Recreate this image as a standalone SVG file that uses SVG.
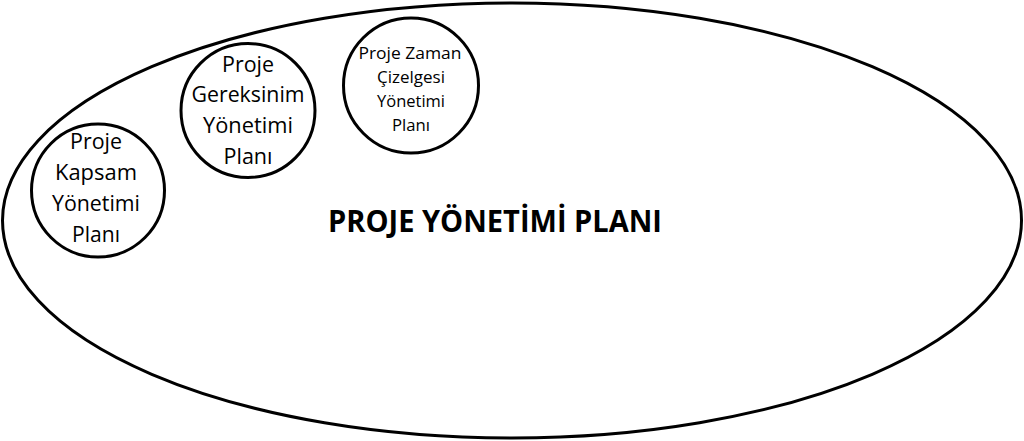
<svg xmlns="http://www.w3.org/2000/svg" width="1024" height="441" viewBox="0 0 1024 441">
<style>
  .shape { fill: #ffffff; stroke: #000000; stroke-width: 3; }
  .lbl { font-family: "Open Sans", "Noto Sans", "Liberation Sans", sans-serif; fill: #000000; text-anchor: middle; }
  .big { font-size: 21px; }
  .small { font-size: 17px; }
  .title { font-size: 31px; font-weight: bold; }
</style>
<rect width="1024" height="441" fill="#ffffff"/>
<g id="plan">
  <ellipse class="shape" cx="512" cy="220.5" rx="509.5" ry="217.5"/>
  <text class="lbl title" x="495" y="232" textLength="334" lengthAdjust="spacingAndGlyphs">PROJE YÖNETİMİ PLANI</text>
</g>
<g id="kapsam">
  <circle class="shape" cx="98" cy="190.5" r="66.5"/>
  <text class="lbl big" x="96" y="149" textLength="52" lengthAdjust="spacingAndGlyphs">Proje</text>
  <text class="lbl big" x="96" y="180" textLength="82" lengthAdjust="spacingAndGlyphs">Kapsam</text>
  <text class="lbl big" x="96" y="211" textLength="88" lengthAdjust="spacingAndGlyphs">Yönetimi</text>
  <text class="lbl big" x="96" y="242" textLength="48" lengthAdjust="spacingAndGlyphs">Planı</text>
</g>
<g id="gereksinim">
  <circle class="shape" cx="248" cy="110.5" r="67"/>
  <text class="lbl big" x="248" y="72" textLength="52" lengthAdjust="spacingAndGlyphs">Proje</text>
  <text class="lbl big" x="248" y="102" textLength="113" lengthAdjust="spacingAndGlyphs">Gereksinim</text>
  <text class="lbl big" x="248" y="133" textLength="90" lengthAdjust="spacingAndGlyphs">Yönetimi</text>
  <text class="lbl big" x="248" y="164" textLength="49" lengthAdjust="spacingAndGlyphs">Planı</text>
</g>
<g id="zaman">
  <circle class="shape" cx="411" cy="85.5" r="67.5"/>
  <text class="lbl small" x="410" y="59" textLength="103" lengthAdjust="spacingAndGlyphs">Proje Zaman</text>
  <text class="lbl small" x="411" y="83" textLength="68" lengthAdjust="spacingAndGlyphs">Çizelgesi</text>
  <text class="lbl small" x="411" y="107" textLength="68" lengthAdjust="spacingAndGlyphs">Yönetimi</text>
  <text class="lbl small" x="411" y="131" textLength="38" lengthAdjust="spacingAndGlyphs">Planı</text>
</g>
<g id="connectors"></g>
</svg>
